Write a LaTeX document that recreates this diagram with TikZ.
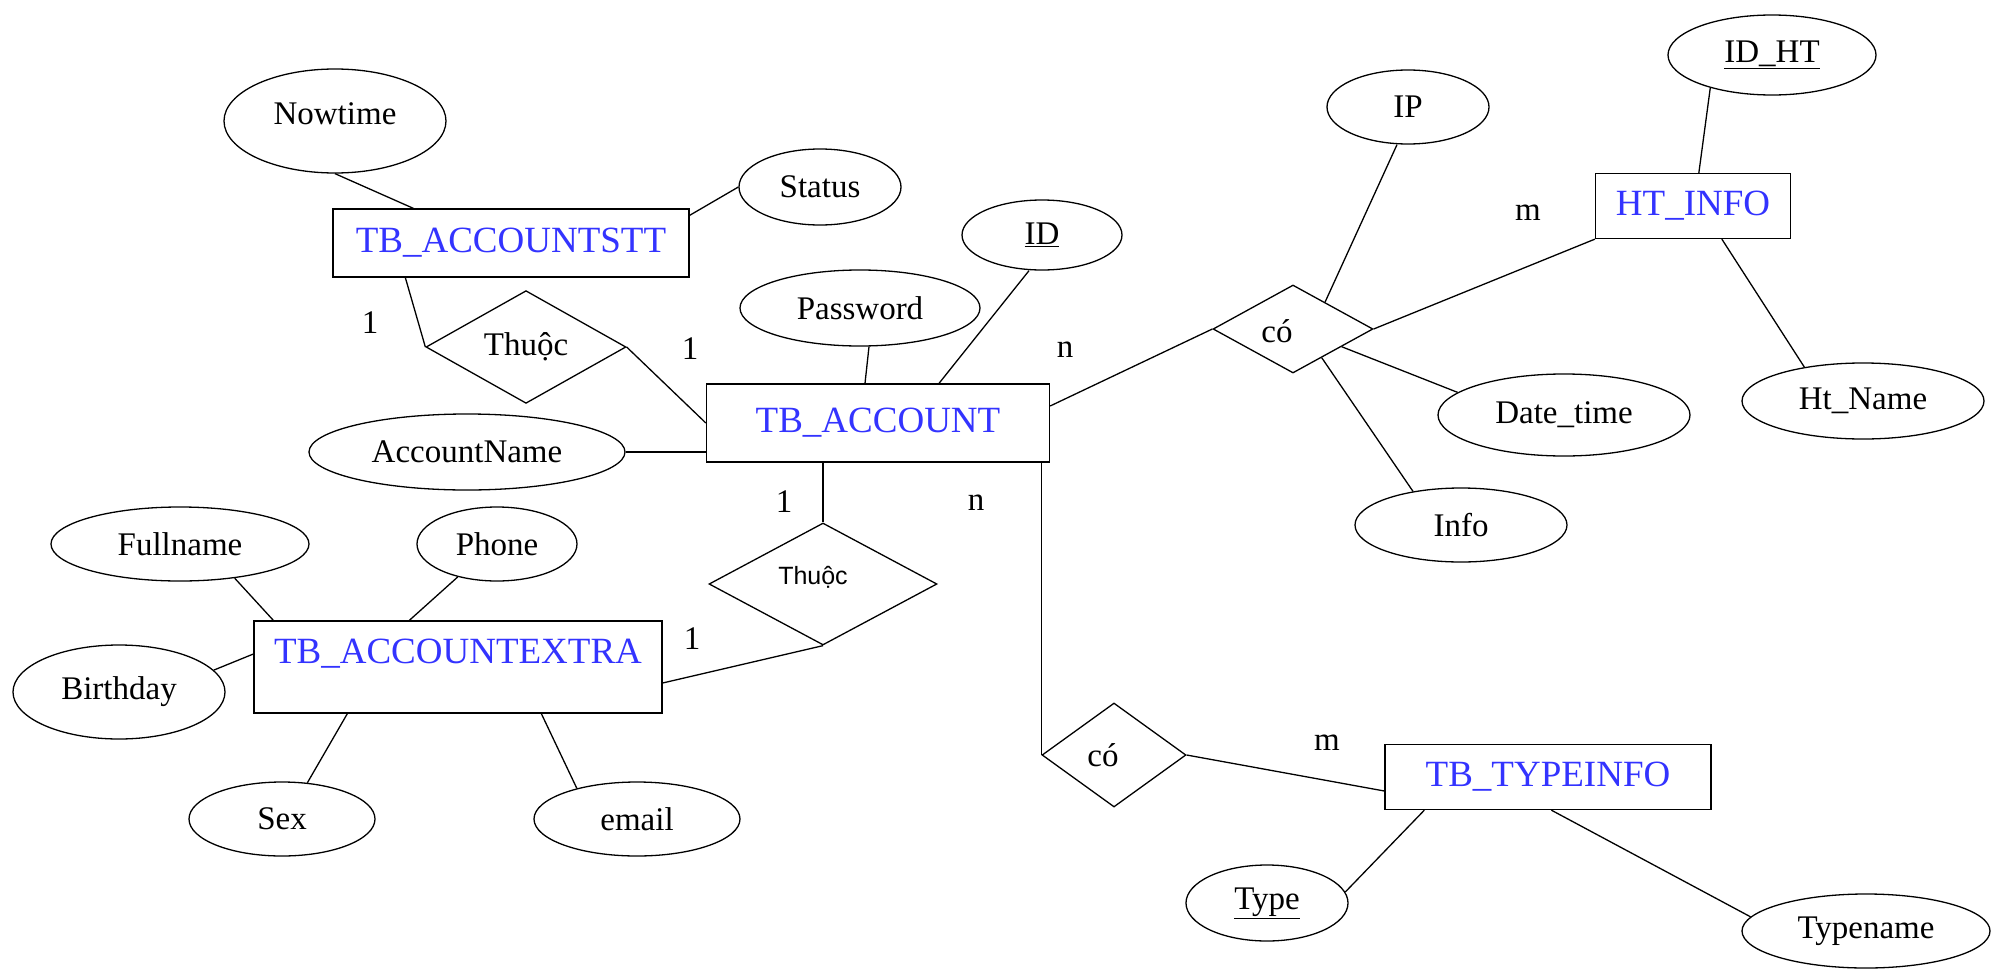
\documentclass[tikz,border=0pt]{standalone}
\usepackage{fontspec}
\setmainfont{Liberation Serif}
\newfontfamily\relsans{Liberation Sans}
\usetikzlibrary{shapes.geometric}
\definecolor{entblue}{RGB}{51,51,255}
\tikzset{
  entity/.style={draw, rectangle, inner sep=0pt, text=entblue,
    font=\fontsize{37}{40}\selectfont},
  attr/.style={draw, ellipse, inner sep=0pt, font=\fontsize{33}{36}\selectfont},
  rel/.style={draw, diamond, inner sep=0pt, font=\fontsize{33}{36}\selectfont},
  txt/.style={inner sep=0pt, font=\fontsize{33}{36}\selectfont},
  card/.style={inner sep=0pt, font=\fontsize{33}{36}\selectfont},
  link/.style={draw, line width=1.3pt},
}
\begin{document}
\begin{tikzpicture}[x=1pt, y=-1pt, line width=1.3pt]
\useasboundingbox (0,0) rectangle (1995,969);

% entities
\node[entity, minimum width=356pt, minimum height=68pt] (stt) at (511,243) {TB\_ACCOUNTSTT};
\node[entity, minimum width=343pt, minimum height=78pt] (acc) at (878,423) {TB\_ACCOUNT};
\node[entity, minimum width=195pt, minimum height=65pt] (ht) at (1693,206) {HT\_INFO};
\node[entity, minimum width=408pt, minimum height=92pt] (ext) at (458,667) {};
\node[text=entblue, font=\fontsize{37}{40}\selectfont] (extlbl) at (458,654) {TB\_ACCOUNTEXTRA};
\node[entity, minimum width=326pt, minimum height=65pt] (ti) at (1548,777) {TB\_TYPEINFO};

% relationships (labels placed a little off-centre)
\node[rel, minimum width=200pt, minimum height=94pt] (th1) at (526,347) {Thuộc};
\node[rel, minimum width=160pt, minimum height=88pt] (co1) at (1293,329) {};
\node[txt] (co1t) at (1277,331) {có};
\node[rel, minimum width=228pt, minimum height=122pt] (th2) at (823,584) {};
\node[txt, font=\relsans\fontsize{25}{28}\selectfont] (th2t) at (813,577) {Thuộc};
\node[rel, minimum width=144pt, minimum height=104pt] (co2) at (1114,755) {};
\node[txt] (co2t) at (1103,755) {có};

% attributes
\node[attr, minimum width=222pt, minimum height=104pt] (now) at (335,121) {};
\node[txt] (nowt) at (335,114) {Nowtime};
\node[attr, minimum width=162pt, minimum height=76pt] (status) at (820,187) {Status};
\node[attr, minimum width=240pt, minimum height=76pt] (pw) at (860,308) {Password};
\node[attr, minimum width=160pt, minimum height=70pt] (id) at (1042,235) {\underline{ID}};
\node[attr, minimum width=316pt, minimum height=76pt] (an) at (467,452) {AccountName};
\node[attr, minimum width=162pt, minimum height=74pt] (ip) at (1408,107) {IP};
\node[attr, minimum width=208pt, minimum height=80pt] (idht) at (1772,55) {\underline{ID\_HT}};
\node[attr, minimum width=252pt, minimum height=82pt] (dt) at (1564,415) {Date\_time};
\node[attr, minimum width=242pt, minimum height=76pt] (htn) at (1863,401) {Ht\_Name};
\node[attr, minimum width=212pt, minimum height=74pt] (info) at (1461,525) {Info};
\node[attr, minimum width=258pt, minimum height=74pt] (fn) at (180,544) {Fullname};
\node[attr, minimum width=160pt, minimum height=74pt] (ph) at (497,544) {Phone};
\node[attr, minimum width=212pt, minimum height=94pt] (bd) at (119,692) {Birthday};
\node[attr, minimum width=186pt, minimum height=74pt] (sex) at (282,819) {Sex};
\node[attr, minimum width=206pt, minimum height=74pt] (em) at (637,819) {email};
\node[attr, minimum width=162pt, minimum height=76pt] (type) at (1267,903) {\underline{Type}};
\node[attr, minimum width=248pt, minimum height=74pt] (tn) at (1866,931) {Typename};

% cardinalities
\node[card] (c1) at (370,323) {1};
\node[card] (c2) at (690,349) {1};
\node[card] (c3) at (1065,350) {n};
\node[card] (c4) at (1528,213) {m};
\node[card] (c5) at (784,502) {1};
\node[card] (c6) at (976,503) {n};
\node[card] (c7) at (692,639) {1};
\node[card] (c8) at (1327,743) {m};

% TB_ACCOUNTSTT and its attributes
\draw[link] (now.south) -- ([xshift=81pt]stt.north west);
\draw[link] ([yshift=-7pt]stt.north east) -- (status.west);
\draw[link] ([xshift=73pt]stt.south west) -- (th1.west);
\draw[link] (th1.east) -- (acc.west);

% TB_ACCOUNT and its attributes
\draw[link] ([xshift=9pt]pw.south) -- ([xshift=-13pt]acc.north);
\draw[link] ([xshift=-13pt]id.south) -- ([xshift=61pt]acc.north);
\draw[link] (an.east) -- (an.east -| acc.west);
\draw[link] (th2.north |- acc.south) -- (th2.north);
\draw[link] (th2.south) -- ([yshift=-16pt]ext.east);

% TB_ACCOUNTEXTRA attributes
\draw[link] (fn.-32) -- ([xshift=20pt]ext.north west);
\draw[link] (ph.-140) -- ([xshift=156pt]ext.north west);
\draw[link] (bd.13) -- ([yshift=13pt]ext.west);
\draw[link] ([xshift=94pt]ext.south west) -- (sex.55);
\draw[link] ([xshift=288pt]ext.south west) -- (em.153);

% relationship with HT_INFO
\draw[link] ([yshift=17pt]acc.east) -- (co1.west);
\draw[link] (co1.east) -- (ht.south west);
\draw[link] ([xshift=-11pt]ip.south) -- (co1.40);
\draw[link] (co1.-20) -- (dt.168);
\draw[link] (co1.-45) -- (info.145);
\draw[link] (idht.-152) -- ([xshift=104pt]ht.north west);
\draw[link] ([xshift=127pt]ht.south west) -- (htn.150);

% relationship with TB_TYPEINFO
\draw[link] (co2.west |- acc.south) -- (co2.west);
\draw[link] (co2.east) -- ([yshift=-14pt]ti.west);
\draw[link] ([xshift=40pt]ti.south west) -- (type.8);
\draw[link] ([xshift=167pt]ti.south west) -- (tn.173);
\end{tikzpicture}
\end{document}
